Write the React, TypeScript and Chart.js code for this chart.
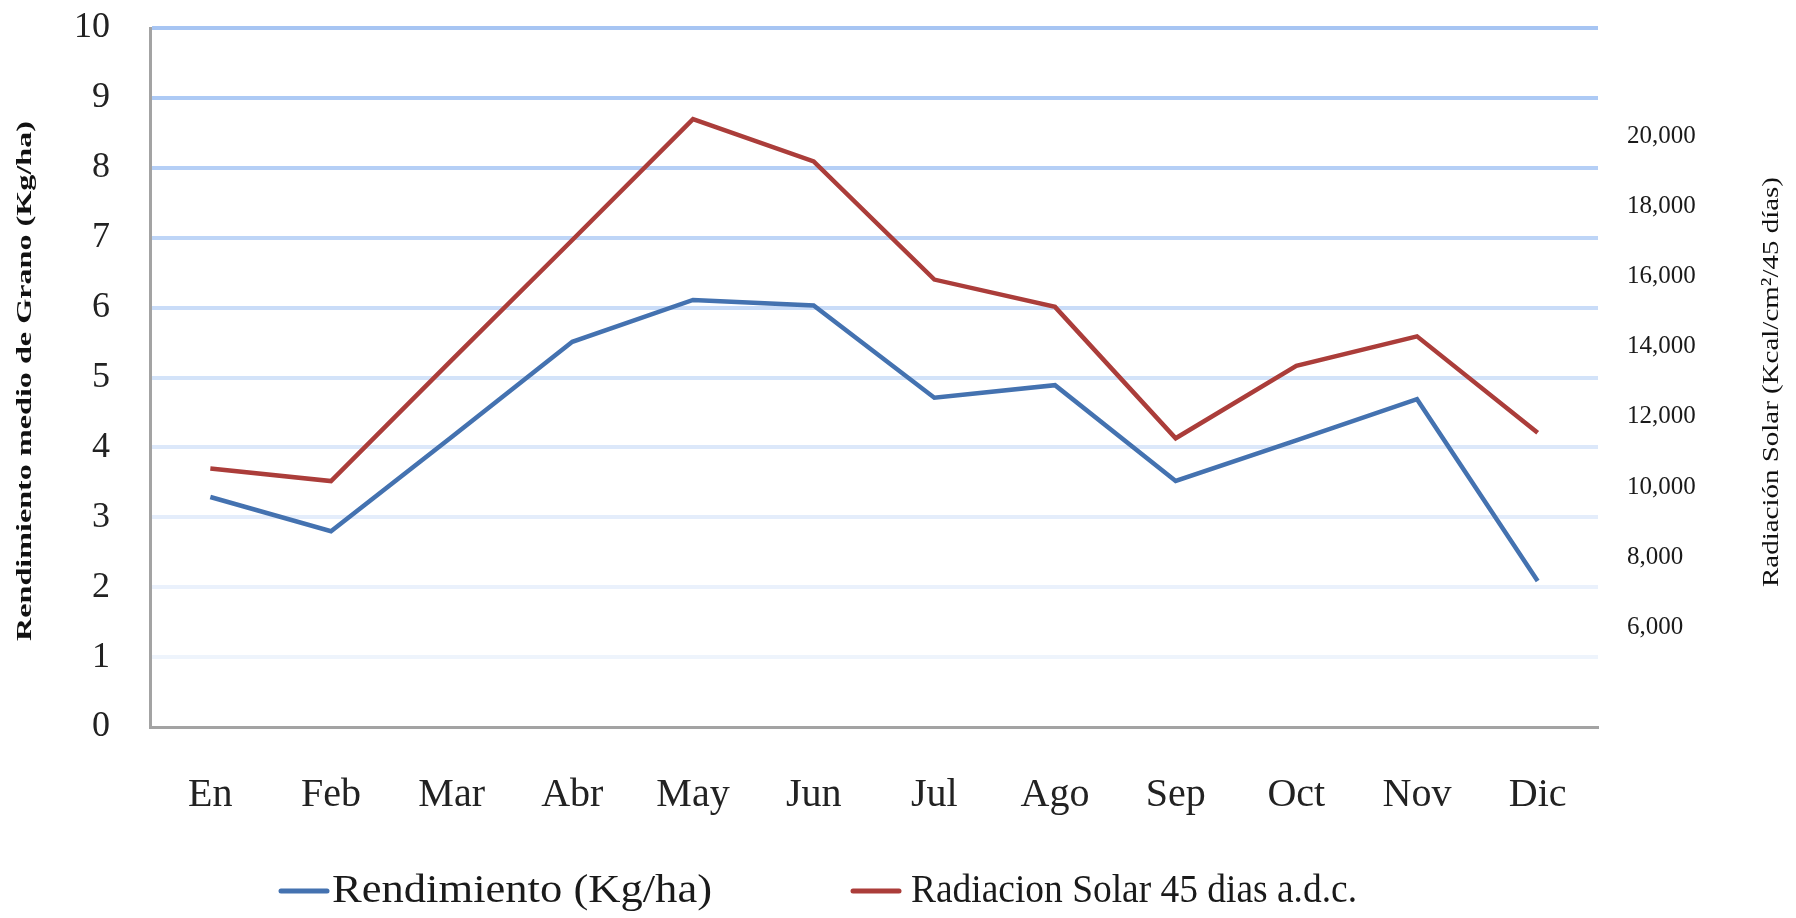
import React, { useEffect, useRef } from 'react';
import { Chart, registerables } from 'chart.js';

Chart.register(...registerables);

// ---------- data ----------
const months = ['En', 'Feb', 'Mar', 'Abr', 'May', 'Jun', 'Jul', 'Ago', 'Sep', 'Oct', 'Nov', 'Dic'];
const rendimiento = [3.29, 2.8, 4.15, 5.51, 6.11, 6.03, 4.71, 4.89, 3.52, 4.1, 4.69, 2.09];
const radiacion = [10530, 10170, 13620, 17050, 20500, 19290, 15920, 15140, 11390, 13460, 14300, 11550];
const rightTickValues = [6000, 8000, 10000, 12000, 14000, 16000, 18000, 20000];
const seriesNames = ['Rendimiento (Kg/ha)', 'Radiacion Solar 45 dias a.d.c.'];
const leftTitle = 'Rendimiento medio de Grano (Kg/ha)';
const rightTitle = 'Radiación Solar (Kcal/cm²/45 días)';

// ---------- styling / layout ----------
const W = 1796;
const H = 918;
const BLUE = '#4472B0';
const RED = '#AB3D3A';
const AXIS_GRAY = '#A3A3A3';
const gridColors = [
  'rgba(0,0,0,0)',
  '#EEF4FC',
  '#EAF1FC',
  '#E4EDFB',
  '#DCE8FA',
  '#D3E3F9',
  '#C9DCF8',
  '#BED5F7',
  '#B5CFF6',
  '#ADCAF5',
  '#A7C5F3',
];

function drawStretched(
  ctx: CanvasRenderingContext2D,
  text: string,
  font: string,
  x: number,
  y: number,
  len: number,
  rot: number,
  color: string,
  align: CanvasTextAlign = 'center'
) {
  ctx.save();
  ctx.font = font;
  ctx.fillStyle = color;
  ctx.textAlign = align;
  ctx.textBaseline = 'middle';
  ctx.translate(x, y);
  ctx.rotate(rot);
  const w = ctx.measureText(text).width;
  ctx.scale(len / w, 1);
  ctx.fillText(text, 0, 0);
  ctx.restore();
}

const overlayPlugin = {
  id: 'overlay',
  afterDraw(chart: any) {
    const ctx: CanvasRenderingContext2D = chart.ctx;
    drawStretched(ctx, leftTitle, 'bold 22px "Liberation Serif"', 25, 381, 520, -Math.PI / 2, '#111');
    drawStretched(ctx, rightTitle, '24px "Liberation Serif"', 1772, 382, 410, -Math.PI / 2, '#111');

    const markerX = [281, 853];
    const textX = [332, 911];
    const textLen = [380, 446];
    const ly = 891;
    chart.data.datasets.forEach((ds: any, i: number) => {
      ctx.save();
      ctx.strokeStyle = ds.borderColor;
      ctx.lineWidth = 5;
      ctx.lineCap = 'round';
      ctx.beginPath();
      ctx.moveTo(markerX[i], ly);
      ctx.lineTo(markerX[i] + 46, ly);
      ctx.stroke();
      ctx.restore();
      drawStretched(ctx, ds.label, '40px "Liberation Serif"', textX[i], ly, textLen[i], 0, '#1a1a1a', 'left');
    });
  },
};

export default function App() {
  const ref = useRef<HTMLCanvasElement | null>(null);

  useEffect(() => {
    if (!ref.current) return;
    const chart = new Chart(ref.current, {
      type: 'line',
      data: {
        labels: months,
        datasets: [
          {
            label: seriesNames[0],
            data: rendimiento,
            borderColor: BLUE,
            backgroundColor: BLUE,
            borderWidth: 4.5,
            pointRadius: 0,
            tension: 0,
            yAxisID: 'y',
          },
          {
            label: seriesNames[1],
            data: radiacion,
            borderColor: RED,
            backgroundColor: RED,
            borderWidth: 4.5,
            pointRadius: 0,
            tension: 0,
            yAxisID: 'y1',
          },
        ],
      },
      options: {
        responsive: false,
        animation: false,
        events: [],
        layout: { padding: { top: 28, left: 0, right: 0, bottom: 0 } },
        plugins: {
          legend: { display: false },
          tooltip: { enabled: false },
          title: { display: false },
        },
        scales: {
          x: {
            type: 'category',
            offset: true,
            grid: { display: false, drawTicks: false },
            border: { display: true, color: AXIS_GRAY, width: 3 },
            ticks: {
              font: { family: '"Liberation Serif"', size: 40 },
              color: '#222',
              padding: 44,
              maxRotation: 0,
              autoSkip: false,
            },
            afterFit: (s: any) => {
              s.height = H - 727;
            },
          },
          y: {
            type: 'linear',
            position: 'left',
            min: 0,
            max: 10,
            ticks: {
              stepSize: 1,
              font: { family: '"Liberation Serif"', size: 36 },
              color: '#222',
              padding: 40,
            },
            grid: {
              drawTicks: false,
              lineWidth: 4,
              color: (c: any) => gridColors[c.index] || 'rgba(0,0,0,0)',
            },
            border: { display: true, color: AXIS_GRAY, width: 3 },
            afterFit: (s: any) => {
              s.width = 150;
              s.paddingTop = 0;
              s.paddingBottom = 0;
            },
          },
          y1: {
            type: 'linear',
            position: 'right',
            min: 3150,
            max: 23100,
            afterBuildTicks: (s: any) => {
              s.ticks = rightTickValues.map((v) => ({ value: v }));
            },
            ticks: {
              font: { family: '"Liberation Serif"', size: 25 },
              color: '#1a1a1a',
              padding: 29,
              callback: (v: any) => Number(v).toLocaleString('en-US'),
            },
            grid: { display: false, drawTicks: false },
            border: { display: false },
            afterFit: (s: any) => {
              s.width = W - 1598;
              s.paddingTop = 0;
              s.paddingBottom = 0;
            },
          },
        },
      },
      plugins: [overlayPlugin],
    });
    return () => chart.destroy();
  }, []);

  return (
    <div style={{ position: 'fixed', left: 0, top: 0, width: W, height: H, background: '#fff' }}>
      <canvas ref={ref} width={W} height={H} style={{ width: W, height: H, display: 'block' }} />
    </div>
  );
}
